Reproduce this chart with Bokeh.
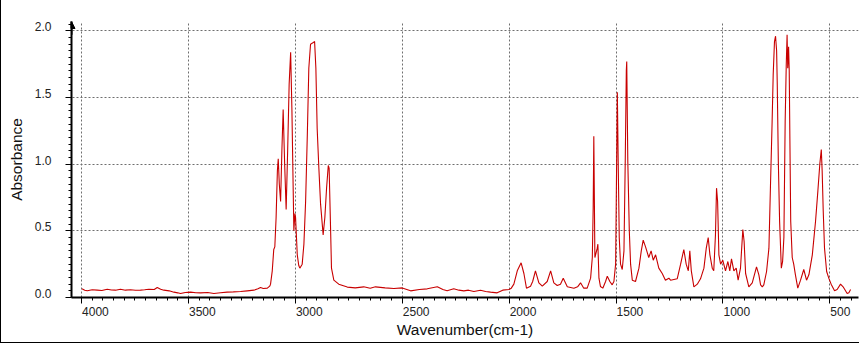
from bokeh.plotting import figure
from bokeh.models import (Range1d, SingleIntervalTicker, FixedTicker, Arrow, NormalHead,
                          LinearAxis, CustomJSTickFormatter)
from bokeh.embed import file_html
from bokeh.resources import INLINE

# IR spectrum (wavenumber in cm-1, descending)
wavenumber = [
    3998, 3985, 3973, 3950, 3927, 3905, 3880, 3860, 3841, 3818, 3795, 3771, 3748, 3724,
    3705, 3685, 3660, 3646, 3630, 3615, 3590, 3568, 3550, 3537, 3515, 3490, 3465, 3443,
    3410, 3381, 3350, 3319, 3290, 3256, 3225, 3194, 3175, 3163, 3150, 3131, 3120, 3116,
    3108, 3101, 3096, 3090, 3084, 3080, 3075, 3069, 3063, 3057, 3050, 3043, 3036, 3029,
    3022, 3016, 3010, 3007, 3002, 2999, 2991, 2984, 2979, 2968, 2960, 2952, 2944, 2937,
    2929, 2918, 2910, 2904, 2898, 2890, 2882, 2870, 2862, 2854, 2846, 2842, 2835, 2831,
    2820, 2797, 2757, 2720, 2680, 2650, 2625, 2580, 2539, 2500, 2461, 2420, 2383, 2336,
    2310, 2290, 2259, 2235, 2212, 2190, 2165, 2134, 2110, 2087, 2056, 2030, 2001, 1990,
    1978, 1962, 1944, 1931, 1919, 1900, 1890, 1877, 1861, 1845, 1822, 1806, 1791, 1775,
    1760, 1747, 1728, 1697, 1680, 1666, 1651, 1635, 1619, 1611, 1607, 1604, 1599, 1588,
    1585, 1580, 1573, 1562, 1549, 1541, 1529, 1518, 1510, 1502, 1499, 1494, 1490, 1485,
    1479, 1471, 1463, 1457, 1452, 1450, 1445, 1438, 1432, 1424, 1409, 1393, 1382, 1373,
    1362, 1347, 1336, 1326, 1315, 1300, 1284, 1269, 1253, 1245, 1214, 1198, 1183, 1172,
    1162, 1155, 1148, 1136, 1120, 1105, 1089, 1078, 1069, 1061, 1050, 1043, 1035, 1030,
    1025, 1019, 1011, 1001, 988, 977, 968, 960, 949, 938, 929, 918, 907, 901,
    894, 879, 863, 843, 832, 824, 816, 809, 796, 785, 778, 770, 765, 759,
    754, 749, 746, 741, 735, 727, 721, 715, 709, 704, 700, 697, 693, 690,
    687, 683, 676, 669, 661, 650, 637, 622, 609, 598, 582, 567, 556, 547,
    540, 536, 531, 525, 515, 505, 494, 478, 466, 450, 438, 419, 411, 403,
]
absorbance = [
    0.065, 0.055, 0.050, 0.058, 0.055, 0.052, 0.062, 0.056, 0.055, 0.062, 0.055, 0.058, 0.054, 0.055,
    0.058, 0.062, 0.060, 0.075, 0.062, 0.055, 0.050, 0.040, 0.035, 0.030, 0.038, 0.040, 0.036, 0.035,
    0.038, 0.030, 0.036, 0.040, 0.042, 0.045, 0.050, 0.055, 0.065, 0.075, 0.068, 0.070, 0.085, 0.10,
    0.20, 0.36, 0.38, 0.60, 0.95, 1.04, 0.85, 0.72, 1.10, 1.41, 1.00, 0.66, 1.10, 1.60,
    1.84, 1.40, 0.80, 0.50, 0.63, 0.60, 0.32, 0.24, 0.22, 0.25, 0.40, 0.72, 1.22, 1.72,
    1.90, 1.91, 1.92, 1.72, 1.27, 0.97, 0.70, 0.47, 0.60, 0.82, 0.99, 0.97, 0.50, 0.22,
    0.13, 0.10, 0.078, 0.072, 0.080, 0.070, 0.080, 0.072, 0.068, 0.072, 0.050, 0.060, 0.065, 0.080,
    0.060, 0.050, 0.065, 0.055, 0.050, 0.055, 0.045, 0.055, 0.045, 0.040, 0.035, 0.055, 0.060, 0.070,
    0.10, 0.20, 0.26, 0.18, 0.07, 0.085, 0.12, 0.20, 0.11, 0.085, 0.12, 0.20, 0.11, 0.09,
    0.10, 0.145, 0.08, 0.07, 0.08, 0.11, 0.07, 0.07, 0.145, 0.30, 0.67, 1.21, 0.30, 0.37,
    0.40, 0.145, 0.083, 0.07, 0.12, 0.16, 0.12, 0.095, 0.12, 0.25, 0.72, 1.54, 1.02, 0.45,
    0.25, 0.21, 0.35, 1.02, 1.70, 1.77, 1.02, 0.50, 0.25, 0.13, 0.12, 0.22, 0.35, 0.43,
    0.38, 0.30, 0.35, 0.28, 0.32, 0.22, 0.18, 0.13, 0.145, 0.13, 0.14, 0.25, 0.36, 0.25,
    0.20, 0.35, 0.20, 0.08, 0.10, 0.14, 0.22, 0.37, 0.45, 0.32, 0.22, 0.20, 0.47, 0.82,
    0.72, 0.32, 0.25, 0.28, 0.20, 0.27, 0.20, 0.29, 0.20, 0.22, 0.13, 0.22, 0.51, 0.42,
    0.18, 0.08, 0.11, 0.23, 0.17, 0.095, 0.08, 0.095, 0.195, 0.37, 0.82, 1.32, 1.67, 1.92,
    1.96, 1.85, 1.60, 1.02, 0.57, 0.22, 0.27, 0.45, 1.32, 1.74, 1.97, 1.72, 1.88, 1.70,
    1.20, 0.57, 0.30, 0.25, 0.17, 0.07, 0.13, 0.21, 0.13, 0.17, 0.32, 0.57, 0.80, 1.00,
    1.11, 0.95, 0.65, 0.37, 0.195, 0.145, 0.10, 0.05, 0.06, 0.10, 0.08, 0.03, 0.035, 0.06,
]
x_tick_values = [4000, 3500, 3000, 2500, 2000, 1500, 1000, 500]
y_tick_values = [0.0, 0.5, 1.0, 1.5, 2.0]
x_tick_step = 500
y_tick_step = 0.5
x_start, x_end = 4047, 366
y_start, y_end = 0.0, 2.07

FONT = "Liberation Sans"
TICK_COLOR = "#222222"
FRAME_W, FRAME_H = 787, 276
X_UNITS_PER_PX = (x_start - x_end) / FRAME_W
Y_UNITS_PER_PX = (y_end - y_start) / FRAME_H

p = figure(
    width=859, height=343,
    x_range=Range1d(x_start, x_end), y_range=Range1d(y_start, y_end),
    output_backend="svg", toolbar_location=None,
    min_border_left=70, min_border_right=2, min_border_top=21, min_border_bottom=46,
)
p.styles = {"border-left": "1px solid #000", "border-bottom": "1px solid #000"}
p.outline_line_color = None
p.background_fill_color = "white"
p.border_fill_color = "white"

p.line(wavenumber, absorbance, line_color="#C80000", line_width=1.1)

xt = SingleIntervalTicker(interval=x_tick_step, num_minor_ticks=10)
yt = SingleIntervalTicker(interval=y_tick_step, num_minor_ticks=10)
p.xaxis.ticker = xt
p.yaxis.ticker = yt
p.xgrid.ticker = xt
p.ygrid.ticker = yt
for g in (p.xgrid, p.ygrid):
    g.grid_line_color = "#6e6e6e"
    g.grid_line_dash = "2 2"
    g.grid_line_width = 1

# main axes: line + ticks only
for ax in (p.xaxis, p.yaxis):
    ax.axis_line_color = "black"
    ax.axis_line_width = 2
    ax.major_tick_line_color = "black"
    ax.minor_tick_line_color = "black"
    ax.major_tick_in = 0
    ax.major_tick_out = 6
    ax.minor_tick_in = 0
    ax.minor_tick_out = 3
    ax.major_label_text_color = None
    ax.major_label_standoff = 0

# label axes: the original software starts x labels at the tick and sets y labels on the tick line
x_label_ticks = [round(v - (len(str(v)) * 0.556 * 12 / 2 + 0.5) * X_UNITS_PER_PX) for v in x_tick_values]
y_label_ticks = [v + 4 * Y_UNITS_PER_PX for v in y_tick_values]

xlab = LinearAxis(
    ticker=FixedTicker(ticks=x_label_ticks, minor_ticks=[]),
    formatter=CustomJSTickFormatter(code=f"return String(Math.round(tick / {x_tick_step}) * {x_tick_step});"),
    axis_label="Wavenumber(cm-1)",
)
ylab = LinearAxis(
    ticker=FixedTicker(ticks=y_label_ticks, minor_ticks=[]),
    formatter=CustomJSTickFormatter(code=f"return (Math.round(tick / {y_tick_step}) * {y_tick_step}).toFixed(1);"),
    axis_label="Absorbance",
)
for ax in (xlab, ylab):
    ax.axis_line_color = None
    ax.major_tick_line_color = None
    ax.minor_tick_line_color = None
    ax.major_tick_in = 0
    ax.major_tick_out = 0
    ax.major_label_text_font = FONT
    ax.major_label_text_font_size = "12px"
    ax.major_label_text_color = TICK_COLOR
    ax.axis_label_text_font = FONT
    ax.axis_label_text_font_size = "15.5px"
    ax.axis_label_text_font_style = "normal"
    ax.axis_label_text_color = "#111111"
xlab.major_label_standoff = 3
xlab.axis_label_standoff = 2
ylab.major_label_standoff = 14
ylab.axis_label_standoff = 7
p.add_layout(xlab, "below")
p.add_layout(ylab, "left")

p.add_layout(Arrow(end=NormalHead(size=7, fill_color="black", line_color="black"),
                   x_start=x_start, y_start=y_end - 0.1, x_end=x_start, y_end=y_end,
                   line_color="black", line_width=2))

open("out.html", "w").write(file_html(p, INLINE))
